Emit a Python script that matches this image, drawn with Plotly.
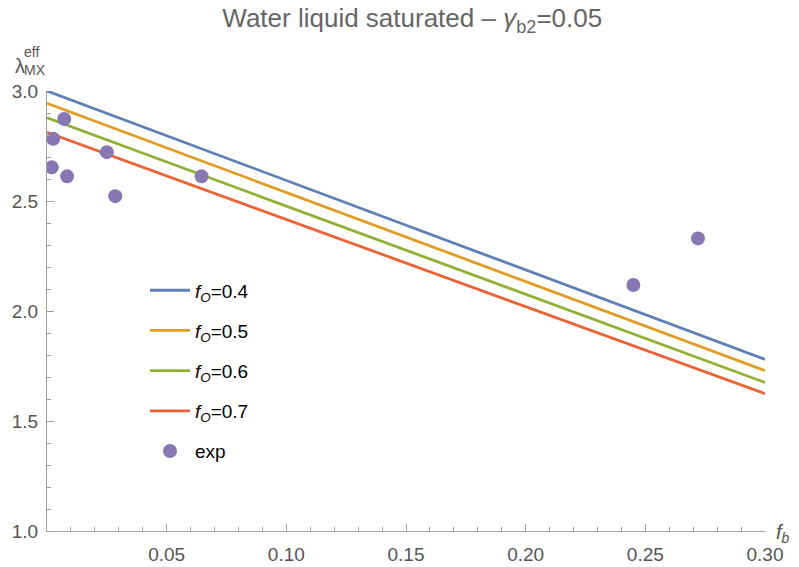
import plotly.graph_objects as go

# ---- data ----
fb_line = [0.0, 0.30]
lam_fo04 = [3.000, 1.780]
lam_fo05 = [2.944, 1.729]
lam_fo06 = [2.878, 1.675]
lam_fo07 = [2.812, 1.624]
line_names = ["<i>f</i><sub><i>O</i></sub>=0.4", "<i>f</i><sub><i>O</i></sub>=0.5",
              "<i>f</i><sub><i>O</i></sub>=0.6", "<i>f</i><sub><i>O</i></sub>=0.7"]
line_colors = ["#5E81B5", "#E19C24", "#8FB032", "#EB6235"]

exp_fb = [0.0072, 0.0026, 0.0020, 0.0084, 0.0250, 0.0285, 0.0646, 0.2450, 0.2720]
exp_lam = [2.873, 2.783, 2.653, 2.612, 2.722, 2.522, 2.612, 2.118, 2.330]

x_ticks = [0.05, 0.10, 0.15, 0.20, 0.25, 0.30]
x_ticktext = ["0.05", "0.10", "0.15", "0.20", "0.25", "0.30"]
y_ticks = [1.0, 1.5, 2.0, 2.5, 3.0]
y_ticktext = ["1.0", "1.5", "2.0", "2.5", "3.0"]

fig = go.Figure()
for i, ys in enumerate([lam_fo04, lam_fo05, lam_fo06, lam_fo07]):
    fig.add_trace(go.Scatter(x=fb_line, y=ys, mode="lines", name=line_names[i],
                             legendgroup=f"g{i}",
                             line=dict(color=line_colors[i], width=2.8)))
fig.add_trace(go.Scatter(x=exp_fb, y=exp_lam, mode="markers", name="exp",
                         legendgroup="g4",
                         marker=dict(color="#8778B3", size=14)))

tickfont = dict(family="Liberation Sans Narrow, Liberation Sans, Arial", size=19, color="#555555")
axcol = "#A0A0A0"
lblfont = "Liberation Sans Narrow, Liberation Sans, Arial"

fig.update_layout(
    width=799, height=567,
    margin=dict(l=47, r=34, t=91, b=36),
    plot_bgcolor="white", paper_bgcolor="white",
    showlegend=True,
    legend=dict(x=0.1365, y=0.590, xanchor="left", yanchor="top",
                font=dict(family="Liberation Sans, Arial", size=19, color="black"),
                bgcolor="rgba(0,0,0,0)", tracegroupgap=12.5, traceorder="grouped",
                itemwidth=40),
    xaxis=dict(range=[0, 0.30], showgrid=False, zeroline=False, showline=True, automargin=False,
               linecolor=axcol, linewidth=1, ticks="inside", ticklen=7, tickcolor=axcol,
               tickvals=x_ticks, ticktext=x_ticktext, tickfont=tickfont, ticklabelstandoff=6,
               minor=dict(ticks="inside", ticklen=4, dtick=0.01, tickcolor=axcol, showgrid=False)),
    yaxis=dict(range=[1.0, 3.0], showgrid=False, zeroline=False, showline=True, automargin=False,
               linecolor=axcol, linewidth=1, ticks="inside", ticklen=7, tickcolor=axcol,
               tickvals=y_ticks, ticktext=y_ticktext, tickfont=tickfont, ticklabelstandoff=4,
               minor=dict(ticks="inside", ticklen=4, dtick=0.1, tickcolor=axcol, showgrid=False)),
    title=dict(text="Water liquid saturated – <i>γ</i><sub>b2</sub>=0.05",
               x=0.516, xanchor="center", y=0.968, yanchor="middle",
               font=dict(family=lblfont, size=26, color="#666666")),
)

# axis labels
fig.add_annotation(xref="paper", yref="paper", x=-0.0376, y=1.0568, xanchor="center", yanchor="middle",
                   text="λ", showarrow=False,
                   font=dict(family=lblfont, size=20, color="#555555"))
fig.add_annotation(xref="paper", yref="paper", x=-0.033, y=1.0682, xanchor="left", yanchor="bottom",
                   text="eff", showarrow=False, borderpad=0,
                   font=dict(family=lblfont, size=14, color="#555555"))
fig.add_annotation(xref="paper", yref="paper", x=-0.033, y=1.0682, xanchor="left", yanchor="top",
                   text="MX", showarrow=False, borderpad=0,
                   font=dict(family=lblfont, size=14, color="#555555"))
fig.add_annotation(xref="paper", yref="paper", x=1.012, y=-0.005, xanchor="left", yanchor="middle",
                   text="<i>f</i><sub><i>b</i></sub>", showarrow=False,
                   font=dict(family=lblfont, size=20, color="#555555"))

fig.write_html("out.html")
